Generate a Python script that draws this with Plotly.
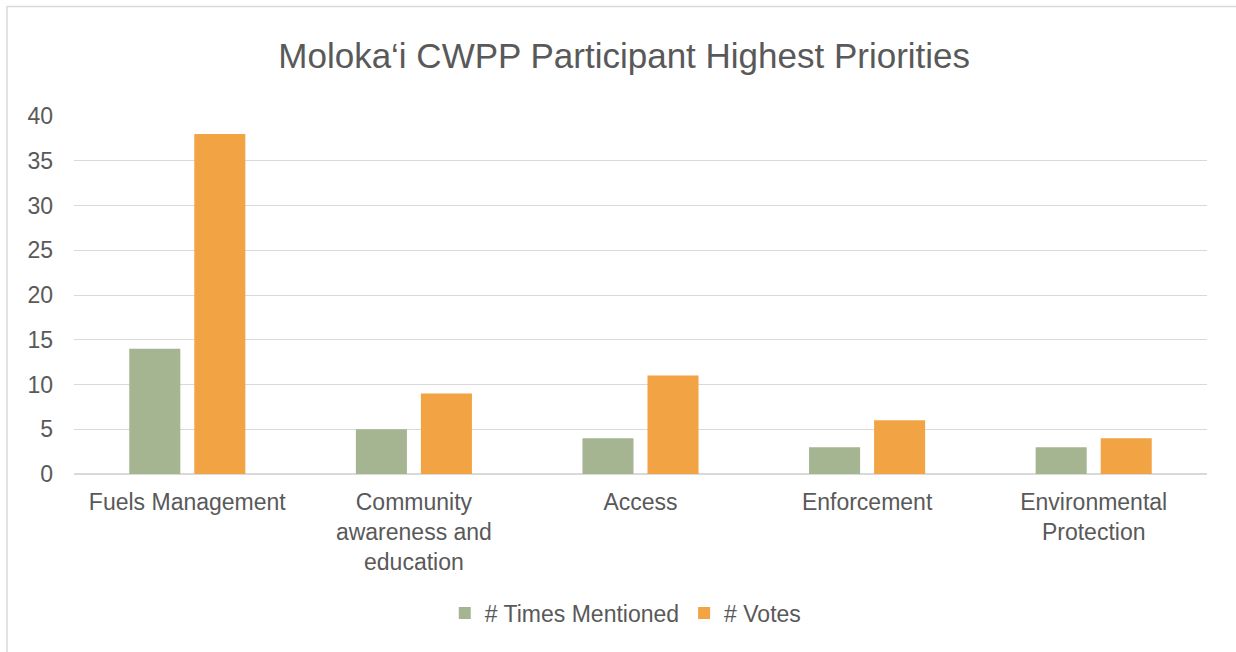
import plotly.graph_objects as go

# Survey results by priority area
categories = [
    "Fuels Management",
    "Community<br>awareness and<br>education",
    "Access",
    "Enforcement",
    "Environmental<br>Protection",
]
times_mentioned = [14, 5, 4, 3, 3]
votes = [38, 9, 11, 6, 4]
y_ticks = [0, 5, 10, 15, 20, 25, 30, 35, 40]

W, H = 1236, 652
L, R, T, B = 74, 29, 116, 178
TEXT = "#595959"
GRID = "#D9D9D9"
FONT = "Liberation Sans"

fig = go.Figure()
fig.add_trace(go.Bar(name="# Times Mentioned", x=categories, y=times_mentioned,
                     marker=dict(color="#A5B592", line=dict(width=0))))
fig.add_trace(go.Bar(name="# Votes", x=categories, y=votes,
                     marker=dict(color="#F2A444", line=dict(width=0))))

pw, ph = W - L - R, H - T - B
# light frame around the whole chart
fig.add_shape(type="rect", xref="paper", yref="paper",
              x0=(7 - L) / pw, x1=(W + 20 - L) / pw,
              y0=(H - 700 - B) / ph, y1=(H - 6.5 - B) / ph,
              line=dict(color="#D9D9D9", width=1.5), layer="below")

fig.update_layout(
    width=W, height=H,
    margin=dict(l=L, r=R, t=T, b=B),
    paper_bgcolor="white", plot_bgcolor="white",
    font=dict(family=FONT, color=TEXT, size=23),
    title=dict(text="Moloka‘i CWPP Participant Highest Priorities",
               x=0.505, xanchor="center", y=1 - 56 / H, yanchor="middle",
               font=dict(size=35, color=TEXT, family=FONT)),
    barmode="group", bargap=0.426, bargroupgap=0.215,
    showlegend=True,
    legend=dict(orientation="h", x=0.487, xanchor="center",
                yref="container", y=1 - 613 / H, yanchor="middle",
                font=dict(size=23, color=TEXT), traceorder="normal",
                itemwidth=30),
    xaxis=dict(showgrid=False, showline=False, ticks="", ticklabelstandoff=12,
               tickfont=dict(size=23, color=TEXT)),
    yaxis=dict(range=[0, 40], tickvals=y_ticks, showgrid=True,
               gridcolor=GRID, gridwidth=1, zeroline=True, zerolinecolor=GRID,
               zerolinewidth=1.5, showline=False, ticks="",
               ticklabelstandoff=20, tickfont=dict(size=23, color=TEXT)),
)

fig.write_html("out.html")
